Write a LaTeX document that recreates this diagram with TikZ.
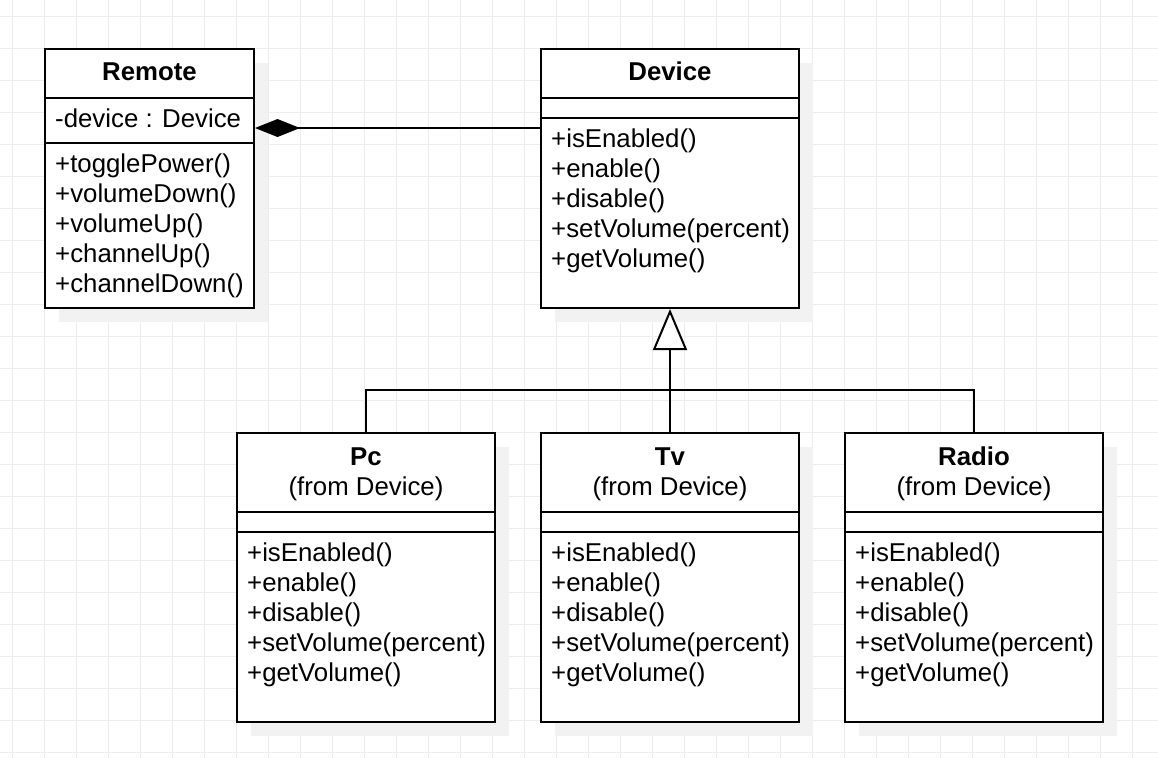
\documentclass[tikz,border=0pt]{standalone}
\usepackage{fontspec}
\setmainfont{Liberation Sans}
\usetikzlibrary{arrows.meta}
\definecolor{gridc}{HTML}{EDEDED}
\definecolor{shadowc}{HTML}{F2F2F2}
\begin{document}
\begin{tikzpicture}[x=1pt,y=-1pt,
  classbox/.style={draw=black, line width=2pt, fill=white, anchor=north west,
    inner sep=0pt, preaction={fill=shadowc, transform canvas={shift={(14pt,-14pt)}}}},
  sepline/.style={draw=black, line width=2pt},
  conn/.style={draw=black, line width=2pt},
  txt/.style={font=\fontsize{25.8}{30}\selectfont, inner sep=0pt, anchor=base west},
  ttl/.style={font=\fontsize{25.8}{30}\selectfont\bfseries, inner sep=0pt, anchor=base},
  sub/.style={font=\fontsize{25.8}{30}\selectfont, inner sep=0pt, anchor=base}]
\useasboundingbox (0,0) rectangle (1158,758);
\fill[white] (0,0) rectangle (1158,758);
% grid
\foreach \i in {0,...,36} \draw[gridc, line width=1pt] ({12.5+32*\i},0) -- ({12.5+32*\i},758);
\foreach \j in {0,...,23} \draw[gridc, line width=1pt] (0,{16+32*\j}) -- (1158,{16+32*\j});

% class boxes
\node[classbox, minimum width=209pt, minimum height=259pt] (remote) at (44,48) {};
\node[classbox, minimum width=258pt, minimum height=259pt] (device) at (540,48) {};
\node[classbox, minimum width=258pt, minimum height=289pt] (pc) at (236,432) {};
\node[classbox, minimum width=258pt, minimum height=289pt] (tv) at (540,432) {};
\node[classbox, minimum width=258pt, minimum height=289pt] (radio) at (844,432) {};

% separators
\draw[sepline] (remote.west |- 0,98) -- (remote.east |- 0,98);
\draw[sepline] (remote.west |- 0,143) -- (remote.east |- 0,143);
\draw[sepline] (device.west |- 0,98) -- (device.east |- 0,98);
\draw[sepline] (device.west |- 0,118) -- (device.east |- 0,118);
\foreach \c in {pc,tv,radio} {
  \draw[sepline] (\c.west |- 0,512) -- (\c.east |- 0,512);
  \draw[sepline] (\c.west |- 0,532) -- (\c.east |- 0,532);
}

% Remote
\node[ttl] (remoteT) at (remote.north |- 0,80.5) {Remote};
\node[txt] (remoteA) at (55,127) {-device : Device};
\node[txt] (remoteM1) at (55,172) {+togglePower()};
\node[txt] (remoteM2) at (55,202) {+volumeDown()};
\node[txt] (remoteM3) at (55,232) {+volumeUp()};
\node[txt] (remoteM4) at (55,262) {+channelUp()};
\node[txt] (remoteM5) at (55,292) {+channelDown()};

% Device
\node[ttl] (deviceT) at (device.north |- 0,80.5) {Device};
\node[txt] (deviceM1) at (551,147) {+isEnabled()};
\node[txt] (deviceM2) at (551,177) {+enable()};
\node[txt] (deviceM3) at (551,207) {+disable()};
\node[txt] (deviceM4) at (551,237) {+setVolume(percent)};
\node[txt] (deviceM5) at (551,267) {+getVolume()};

% subclasses
\foreach \c/\n/\x in {pc/Pc/247, tv/Tv/551, radio/Radio/855} {
  \node[ttl] (\c T) at (\c.north |- 0,465) {\n};
  \node[sub] (\c S) at (\c.north |- 0,495.5) {(from Device)};
  \node[txt] (\c M1) at (\x,561) {+isEnabled()};
  \node[txt] (\c M2) at (\x,591) {+enable()};
  \node[txt] (\c M3) at (\x,621) {+disable()};
  \node[txt] (\c M4) at (\x,651) {+setVolume(percent)};
  \node[txt] (\c M5) at (\x,681) {+getVolume()};
}

% composition
\path (remote.north east) ++(0,80) coordinate (remA);
\path (device.north west) ++(0,80) coordinate (devA);
\draw[conn, -{Diamond[length=45pt, width=18pt, fill=black]}] (devA) -- (remA);

% inheritance
\coordinate (junc) at (tv.north |- 0,390);
\draw[conn] (pc.north) |- (junc) -| (radio.north);
\draw[conn, -{Triangle[open, length=41pt, width=34pt, fill=white]}] (tv.north) -- (device.south);
\end{tikzpicture}
\end{document}
